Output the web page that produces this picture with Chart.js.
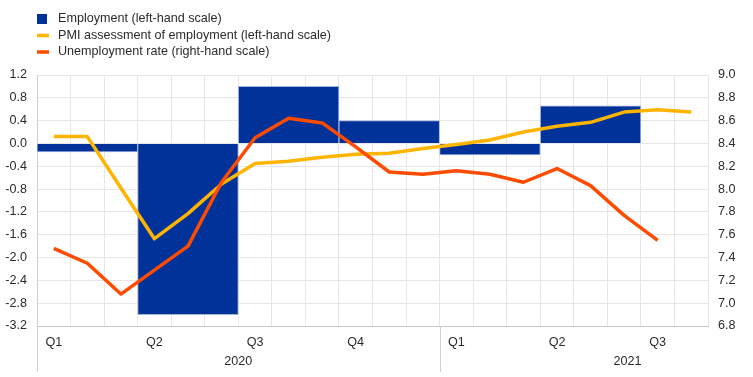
<!DOCTYPE html>
<html>
<head>
<meta charset="utf-8">
<script src="https://cdn.jsdelivr.net/npm/chart.js@4"></script>
<style>
  html, body { margin: 0; padding: 0; background: #fff; }
  #wrap { width: 753px; height: 377px; }
</style>
</head>
<body>
<div id="wrap"><canvas id="chart" width="753" height="377"></canvas></div>
<script>
// Employment, quarter-on-quarter % (left-hand scale), Q1 2020 - Q2 2021
const employment = [-0.15, -3.0, 1.0, 0.4, -0.2, 0.66];
// PMI assessment of employment (left-hand scale), Jan 2020 - Aug 2021
const pmi = [0.12, 0.12, -0.78, -1.67, -1.23, -0.71, -0.35, -0.31, -0.24, -0.19, -0.17, -0.09,
             -0.02, 0.06, 0.2, 0.3, 0.37, 0.55, 0.59, 0.55];
// Unemployment rate (right-hand scale), Jan 2020 - Jul 2021
const unemployment = [7.48, 7.35, 7.08, 7.29, 7.5, 8.06, 8.45, 8.62, 8.58, 8.37, 8.15, 8.13,
                      8.16, 8.13, 8.06, 8.18, 8.03, 7.77, 7.55];

const quarterLabels = ["Q1", "Q2", "Q3", "Q4", "Q1", "Q2", "Q3"];
const yearLabels = ["2020", "2021"];
const leftTicks = [1.2, 0.8, 0.4, 0.0, -0.4, -0.8, -1.2, -1.6, -2.0, -2.4, -2.8, -3.2];
const rightTicks = [9.0, 8.8, 8.6, 8.4, 8.2, 8.0, 7.8, 7.6, 7.4, 7.2, 7.0, 6.8];

const legendItems = [
  { text: "Employment (left-hand scale)", color: "#003299", box: true },
  { text: "PMI assessment of employment (left-hand scale)", color: "#ffb400" },
  { text: "Unemployment rate (right-hand scale)", color: "#ff4b00" }
];

const FONT = '"Liberation Sans", Arial, sans-serif';
const FONT_SIZE = 12.6;
const TEXT = "#2b2b2b";
const MONTHS = 20;

// legend, year labels and the lines that run down into the axis area
const decorations = {
  id: "decorations",
  afterDraw(chart) {
    const { ctx, chartArea, scales } = chart;
    ctx.save();

    ctx.font = FONT_SIZE + "px " + FONT;
    ctx.textBaseline = "middle";
    legendItems.forEach((item, i) => {
      const y = 19 + i * 16.5;
      if (item.box) {
        ctx.fillStyle = item.color;
        ctx.fillRect(37, y - 5, 10, 10);
      } else {
        ctx.strokeStyle = item.color;
        ctx.lineWidth = 3.5;
        ctx.beginPath();
        ctx.moveTo(37, y);
        ctx.lineTo(49, y);
        ctx.stroke();
      }
      ctx.fillStyle = TEXT;
      ctx.textAlign = "left";
      ctx.fillText(item.text, 58, y);
    });

    ctx.strokeStyle = "#d0d0d0";
    ctx.lineWidth = 1;
    [0, 12].forEach((m) => {
      const x = Math.round(scales.x.getPixelForValue(m)) + 0.5;
      ctx.beginPath();
      ctx.moveTo(x, chartArea.bottom);
      ctx.lineTo(x, 372);
      ctx.stroke();
    });

    ctx.fillStyle = TEXT;
    ctx.textAlign = "center";
    const yearCenters = [6, 17.6];
    yearLabels.forEach((label, i) => {
      ctx.fillText(label, scales.x.getPixelForValue(yearCenters[i]), 362);
    });
    ctx.restore();
  }
};

new Chart(document.getElementById("chart"), {
  type: "line",
  data: {
    datasets: [
      {
        type: "line",
        label: "Unemployment rate (right-hand scale)",
        data: unemployment.map((v, i) => ({ x: i + 0.5, y: v })),
        xAxisID: "x",
        yAxisID: "y2",
        borderColor: "#ff4b00",
        borderWidth: 3.5,
        borderJoinStyle: "round",
        pointRadius: 0,
        tension: 0,
        order: 1
      },
      {
        type: "line",
        label: "PMI assessment of employment (left-hand scale)",
        data: pmi.map((v, i) => ({ x: i + 0.5, y: v })),
        xAxisID: "x",
        yAxisID: "y",
        borderColor: "#ffb400",
        borderWidth: 3.5,
        borderJoinStyle: "round",
        pointRadius: 0,
        tension: 0,
        order: 2
      },
      {
        type: "bar",
        label: "Employment (left-hand scale)",
        data: employment.map((v, i) => ({ x: i * 3 + 1.5, y: v })),
        xAxisID: "x",
        yAxisID: "y",
        backgroundColor: "#003299",
        borderColor: "#a7b4dc",
        borderWidth: 1,
        barPercentage: 1,
        categoryPercentage: 1,
        order: 3
      }
    ]
  },
  options: {
    responsive: false,
    animation: false,
    layout: { padding: { top: 75, left: 0, right: 0, bottom: 0 } },
    plugins: {
      legend: { display: false },
      tooltip: { enabled: false }
    },
    scales: {
      x: {
        type: "linear",
        position: "bottom",
        min: 0,
        max: MONTHS,
        offset: false,
        afterBuildTicks: (s) => {
          s.ticks = quarterLabels.map((_, i) => ({ value: i * 3 + 0.5 }));
        },
        afterFit: (s) => { s.height = 51; },
        grid: { display: false, drawTicks: false, offset: false },
        border: { display: true, color: "#c8c8c8" },
        ticks: {
          autoSkip: false,
          maxRotation: 0,
          padding: 9,
          color: TEXT,
          font: { size: FONT_SIZE, family: FONT },
          callback: (v, i) => quarterLabels[i]
        }
      },
      xm: {
        type: "linear",
        position: "top",
        min: 0,
        max: MONTHS,
        offset: false,
        afterBuildTicks: (s) => {
          s.ticks = Array.from({ length: MONTHS + 1 }, (_, i) => ({ value: i }));
        },
        afterFit: (s) => { s.height = 0; },
        grid: { color: "#e6e6e6", drawTicks: false, offset: false },
        border: { display: false },
        ticks: { display: false }
      },
      y: {
        type: "linear",
        position: "left",
        min: -3.2,
        max: 1.2,
        afterBuildTicks: (s) => {
          s.ticks = leftTicks.map((v) => ({ value: v }));
        },
        afterFit: (s) => { s.width = 37; },
        grid: { color: "#e6e6e6", drawTicks: false },
        border: { display: true, color: "#d0d0d0" },
        ticks: {
          padding: 10,
          color: TEXT,
          font: { size: FONT_SIZE, family: FONT },
          callback: (v) => v.toFixed(1)
        }
      },
      y2: {
        type: "linear",
        position: "right",
        min: 6.8,
        max: 9.0,
        afterBuildTicks: (s) => {
          s.ticks = rightTicks.map((v) => ({ value: v }));
        },
        afterFit: (s) => { s.width = 45; },
        grid: { display: false, drawTicks: false },
        border: { display: false },
        ticks: {
          padding: 10,
          color: TEXT,
          font: { size: FONT_SIZE, family: FONT },
          callback: (v) => v.toFixed(1)
        }
      }
    }
  },
  plugins: [decorations]
});
</script>
</body>
</html>
